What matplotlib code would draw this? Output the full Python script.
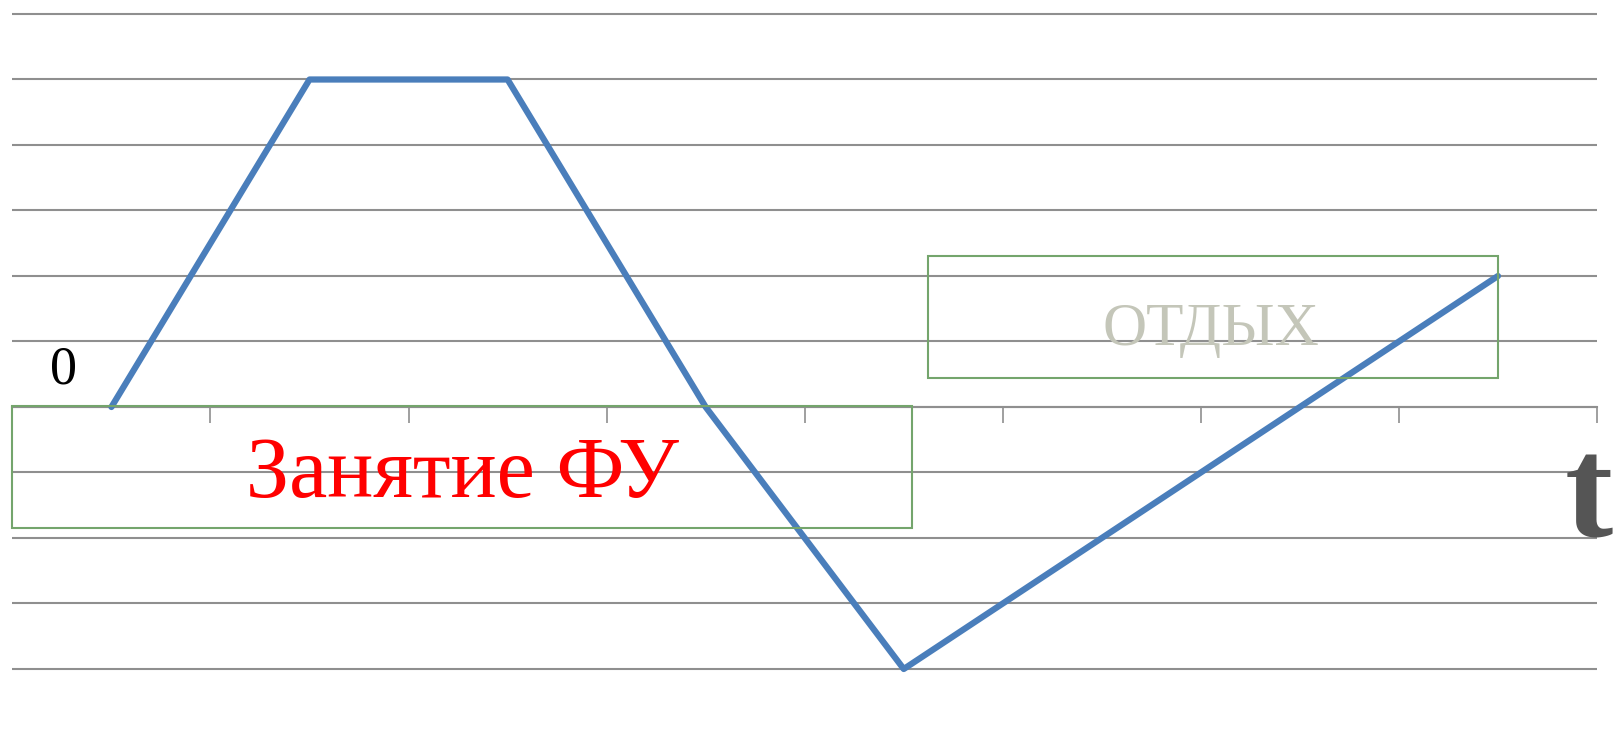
import matplotlib
matplotlib.use("Agg")
import matplotlib.pyplot as plt
from matplotlib.patches import Rectangle

# Phases along the time axis and the curve level in each
categories = ["1", "2", "3", "4", "5", "6", "7", "8"]
values = [0, 5, 5, 0, -4, -2, 0, 2]
grid_levels = list(range(-4, 7))

label_work = "Занятие ФУ"
label_rest = "ОТДЫХ"
label_zero = "0"
label_time = "t"

W, H = 1618, 733
fig = plt.figure(figsize=(W / 100, H / 100), dpi=100)


def fx(px):
    return px / W


def fy(py):
    return 1 - py / H


# axes: x spans category edges, y spans the grid levels
ax = fig.add_axes([fx(12.4), fy(701.75), fx(1584.6), 0.95614])
ax.set_xlim(-0.5, len(categories) - 0.5)
ax.set_ylim(-4.5, 6.2)

grid_color = "#8f8f8f"
ax.set_yticks(grid_levels)
ax.yaxis.grid(True, color=grid_color, linewidth=1.5)
ax.tick_params(axis="y", left=False, labelleft=False)

for side in ("top", "right", "left"):
    ax.spines[side].set_visible(False)
ax.spines["bottom"].set_position(("data", 0))
ax.spines["bottom"].set_color(grid_color)
ax.spines["bottom"].set_linewidth(1.5)
ax.set_xticks([i - 0.5 for i in range(len(categories) + 1)])
ax.set_xticklabels([])
ax.tick_params(axis="x", direction="out", length=11.5, width=1.2, color=grid_color)
ax.set_axisbelow(True)

ax.plot(range(len(categories)), values, color="#4a7ebb", linewidth=4.5,
        solid_joinstyle="round", solid_capstyle="round", zorder=3)

# framed captions
box_color = "#74a56c"
fig.patches.append(Rectangle((fx(12.4), fy(528.3)), fx(912 - 12.4), fy(405.7) - fy(528.3),
                             transform=fig.transFigure, fill=False,
                             edgecolor=box_color, linewidth=1.5, zorder=4))
fig.patches.append(Rectangle((fx(927.5), fy(377.7)), fx(1497.7 - 927.5), fy(255.7) - fy(377.7),
                             transform=fig.transFigure, fill=False,
                             edgecolor=box_color, linewidth=1.5, zorder=4))

serif = ["Liberation Serif", "DejaVu Serif"]
fig.text(fx(462), fy(496.5), label_work, ha="center", va="baseline",
         color="#ff0000", fontsize=62, family=serif)
fig.text(fx(1210.5), fy(345), label_rest, ha="center", va="baseline",
         color="#c4c6b9", fontsize=44, family=serif)
fig.text(fx(63), fy(384), label_zero, ha="center", va="baseline",
         color="black", fontsize=39, family=serif)
fig.text(fx(1588.5), fy(537), label_time, ha="center", va="baseline",
         color="#555555", fontsize=104, fontweight="bold", family=serif)

fig.savefig("out.png", dpi=100)
